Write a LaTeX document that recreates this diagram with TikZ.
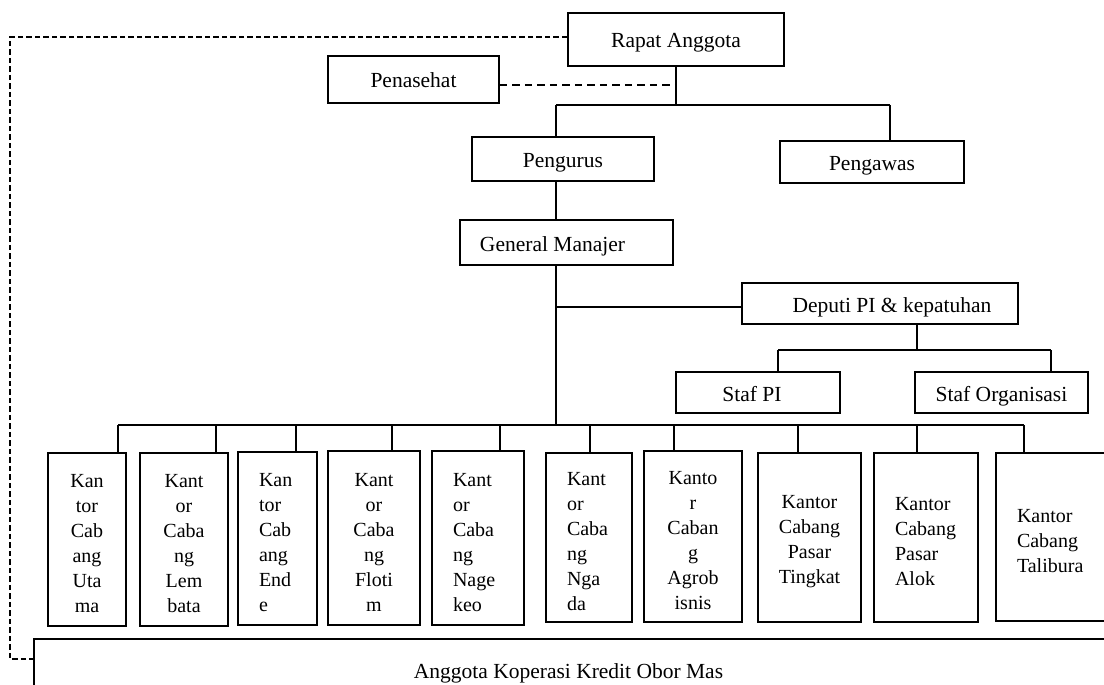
\documentclass[tikz,border=0pt]{standalone}
\usepackage{fontspec}
\setmainfont{Liberation Serif}
\begin{document}
\begin{tikzpicture}[x=1pt,y=-1pt,
  box/.style={draw, line width=1.6pt, inner sep=0pt},
  lab/.style={box, font=\fontsize{21.5}{26}\selectfont, text height=17pt, text depth=0pt},
  cbox/.style={box, font=\fontsize{20}{25}\selectfont, align=center},
  lbox/.style={box, font=\fontsize{20}{25}\selectfont, align=left, inner xsep=21pt, text width=#1},
  conn/.style={line width=1.6pt},
  pdash/.style={line width=1.7pt, dash pattern=on 7.5pt off 5pt},
  fdash/.style={line width=1.3pt, dash pattern=on 5.5pt off 3pt}]
\useasboundingbox (0,0) rectangle (1104,685);
\fill[white] (0,0) rectangle (1104,685);
\clip (0,0) rectangle (1104,685);

% top boxes
\node[lab, minimum width=216pt, minimum height=53pt] (rapat) at (676,39.5) {Rapat Anggota};
\node[lab, minimum width=171pt, minimum height=47pt] (pen) at (413.5,79.5) {Penasehat};
\node[lab, minimum width=182pt, minimum height=44pt] (peng) at (563,159) {Pengurus};
\node[lab, minimum width=184pt, minimum height=42pt] (paw) at (872,162) {Pengawas};
\node[lab, minimum width=213pt, minimum height=45pt] (gm) at (566.5,242.5) {General Manajer\hspace*{28pt}};
\node[lab, minimum width=276pt, minimum height=41pt] (dep) at (880,303.5) {\hspace*{24pt}Deputi PI \& kepatuhan};
\node[lab, minimum width=164pt, minimum height=41pt] (spi) at (758,392.5) {Staf PI\hspace*{12pt}};
\node[lab, minimum width=173pt, minimum height=41pt] (sorg) at (1001.5,392.5) {Staf Organisasi};

% branch boxes
\node[cbox, minimum width=78pt, minimum height=173pt] (b1) at (87,539.5) {\rule{0pt}{22pt}Kan\\tor\\Cab\\ang\\Uta\\ma};
\node[cbox, minimum width=88pt, minimum height=173pt] (b2) at (184,539.5) {\rule{0pt}{22pt}Kant\\or\\Caba\\ng\\Lem\\bata};
\node[lbox=37pt, minimum width=79pt, minimum height=173pt] (b3) at (277.5,538.5) {\rule{0pt}{22pt}Kan\\tor\\Cab\\ang\\End\\e};
\node[cbox, minimum width=92pt, minimum height=174pt] (b4) at (374,538) {\rule{0pt}{22pt}Kant\\or\\Caba\\ng\\Floti\\m};
\node[lbox=50pt, minimum width=92pt, minimum height=174pt] (b5) at (478,538) {\rule{0pt}{22pt}Kant\\or\\Caba\\ng\\Nage\\keo};
\node[lbox=44pt, minimum width=86pt, minimum height=169pt] (b6) at (589,537.5) {\rule{0pt}{22pt}Kant\\or\\Caba\\ng\\Nga\\da};
\node[cbox, minimum width=98pt, minimum height=171pt] (b7) at (693,536.5) {\rule{0pt}{22pt}Kanto\\r\\Caban\\g\\Agrob\\isnis};
\node[cbox, minimum width=103pt, minimum height=169pt] (b8) at (809.5,537.5) {\rule{0pt}{22pt}Kantor\\Cabang\\Pasar\\Tingkat};
\node[lbox=62pt, minimum width=104pt, minimum height=169pt] (b9) at (926,537.5) {\rule{0pt}{22pt}Kantor\\Cabang\\Pasar\\Alok};
\node[lbox=72pt, minimum width=114pt, minimum height=168pt] (b10) at (1053,537) {\rule{0pt}{22pt}Kantor\\Cabang\\Talibura};

% members box
\node[lab, minimum width=1081pt, minimum height=61pt] (ang) at (574.5,669.5) {Anggota Koperasi Kredit Obor Mas\hspace*{12pt}};

% Rapat -> Pengurus / Pengawas
\coordinate (rj) at (676,105);
\coordinate (pl) at (556,105);
\coordinate (pr) at (890,105);
\draw[conn] (rapat.south) -- (rj);
\draw[conn] (pl) -- (pr);
\draw[conn] (pl) -- (pl |- peng.north);
\draw[conn] (pr) -- (pr |- paw.north);

% Penasehat dashed
\coordinate (pd) at (676,85);
\draw[pdash] (pd -| pen.east) -- (pd);

% Rapat -> Anggota dashed loop
\coordinate (lt) at (10,37);
\coordinate (lb) at (10,659);
\draw[fdash] (lt -| rapat.west) -- (lt) -- (lb) -- (lb -| ang.west);

% trunk
\coordinate (trunk) at (556,425);
\draw[conn] (trunk |- peng.south) -- (trunk |- gm.north);
\draw[conn] (trunk |- gm.south) -- (trunk);

% Deputi
\coordinate (dj) at (556,307);
\draw[conn] (dj) -- (dj -| dep.west);
\coordinate (dq) at (917,350);
\coordinate (sl) at (778,350);
\coordinate (sr) at (1051,350);
\draw[conn] (dq |- dep.south) -- (dq);
\draw[conn] (sl) -- (sr);
\draw[conn] (sl) -- (sl |- spi.north);
\draw[conn] (sr) -- (sr |- sorg.north);

% branch bus
\coordinate (d1) at (118,425);
\coordinate (d2) at (216,425);
\coordinate (d3) at (296,425);
\coordinate (d4) at (392,425);
\coordinate (d5) at (500,425);
\coordinate (d6) at (590,425);
\coordinate (d7) at (674,425);
\coordinate (d8) at (798,425);
\coordinate (d9) at (917,425);
\coordinate (d10) at (1024,425);
\draw[conn] (d1) -- (d10);
\foreach \i in {1,...,10} {\draw[conn] (d\i) -- (d\i |- b\i.north);}
\end{tikzpicture}
\end{document}
